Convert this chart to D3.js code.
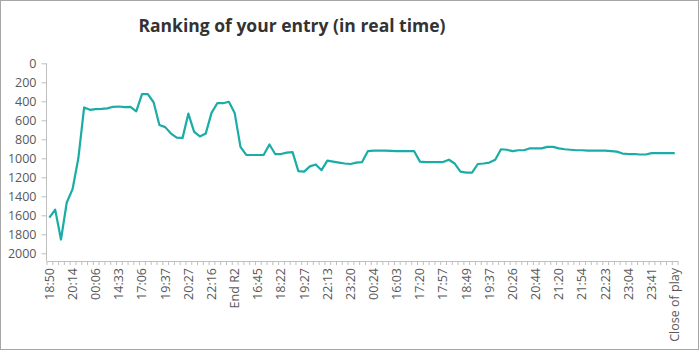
<!DOCTYPE html>
<html>
<head>
<meta charset="utf-8">
<script src="https://cdn.jsdelivr.net/npm/d3@7"></script>
<style>
  html, body { margin: 0; padding: 0; background: #fff; }
  svg { display: block; font-family: "Open Sans", "Noto Sans", sans-serif; }
</style>
</head>
<body>
<svg id="chart" width="699" height="350"></svg>
<script>
// Ranking over time, one value per update
const rank = [
  1625, 1540, 1855, 1465, 1325, 1000, 465, 490, 482, 480,
  475, 458, 455, 462, 458, 505, 325, 325, 410, 650,
  672, 740, 782, 785, 530, 722, 770, 740, 522, 420,
  420, 405, 522, 880, 965, 965, 965, 965, 855, 955,
  955, 940, 935, 1135, 1140, 1085, 1065, 1125, 1025, 1035,
  1045, 1055, 1060, 1045, 1040, 925, 920, 920, 920, 922,
  925, 925, 925, 925, 1035, 1040, 1040, 1040, 1040, 1015,
  1055, 1140, 1150, 1150, 1060, 1055, 1045, 1015, 905, 910,
  925, 915, 915, 895, 895, 895, 880, 880, 895, 905,
  910, 915, 915, 920, 920, 920, 920, 925, 930, 950,
  955, 955, 960, 960, 945, 945, 945, 945, 945
];

// Labels shown on every fourth category
const tickLabels = [
  "18:50", "20:14", "00:06", "14:33", "17:06", "19:37", "20:27", "22:16",
  "End R2", "16:45", "18:22", "19:27", "22:13", "23:20", "00:24", "16:03",
  "17:20", "17:57", "18:49", "19:37", "20:26", "20:44", "21:20", "21:54",
  "22:23", "23:04", "23:41", "Close of play"
];
const labelEvery = 4;

const yTicks = [0, 200, 400, 600, 800, 1000, 1200, 1400, 1600, 1800, 2000];

const svg = d3.select("#chart");
const W = 699, H = 350;

// outer frame
svg.append("rect")
  .attr("x", 0.5).attr("y", 0.5)
  .attr("width", W - 1).attr("height", H - 1)
  .attr("fill", "#fff").attr("stroke", "#a6a6a6").attr("stroke-width", 1);

svg.append("text")
  .attr("x", 292).attr("y", 32)
  .attr("text-anchor", "middle")
  .attr("font-size", 17.5)
  .attr("font-weight", 700)
  .attr("fill", "#333")
  .text("Ranking of your entry (in real time)");

const plotLeft = 46.5, plotRight = 677.6, plotTop = 63.3, plotBottom = 261;

const x = d3.scaleBand().domain(d3.range(rank.length)).range([plotLeft, plotRight]).padding(0);
const xEdge = d3.scaleLinear().domain([0, rank.length]).range([plotLeft, plotRight]);
const y = d3.scaleLinear().domain([0, 2000]).range([plotTop, 253.3]);

const axisColor = "#bfbfbf";
const textColor = "#595959";

// y axis
const yAxis = svg.append("g")
  .attr("transform", `translate(${plotLeft},0)`)
  .call(d3.axisLeft(y).tickValues(yTicks).tickFormat(d3.format("d"))
    .tickSize(5).tickPadding(5).tickSizeOuter(0));
yAxis.select(".domain").remove();
yAxis.append("line")
  .attr("x1", 0).attr("x2", 0).attr("y1", plotTop).attr("y2", plotBottom)
  .attr("stroke", axisColor);
yAxis.selectAll(".tick line").attr("stroke", axisColor);
yAxis.selectAll(".tick text")
  .attr("fill", textColor).attr("font-size", 12.5)
  .attr("font-family", "'Open Sans', sans-serif");

// x axis: tick marks between categories
const xTickG = svg.append("g")
  .attr("transform", `translate(0,${plotBottom})`)
  .call(d3.axisBottom(xEdge).tickValues(d3.range(rank.length + 1)).tickSize(4).tickFormat("").tickSizeOuter(0));
xTickG.select(".domain").attr("stroke", axisColor);
xTickG.selectAll(".tick line").attr("stroke", axisColor);

// x axis labels, rotated
const labelIdx = d3.range(0, rank.length, labelEvery);
const xLab = svg.append("g")
  .attr("transform", `translate(0,${plotBottom})`)
  .call(d3.axisBottom(x).tickValues(labelIdx).tickSize(0)
    .tickFormat(i => tickLabels[i / labelEvery]));
xLab.select(".domain").remove();
xLab.selectAll(".tick text")
  .attr("fill", textColor).attr("font-size", 12.5)
  .attr("font-family", "'Open Sans', sans-serif")
  .attr("transform", "rotate(-90)")
  .attr("text-anchor", "end")
  .attr("x", -7).attr("y", 0).attr("dy", "0.35em");

// ranking line
const line = d3.line()
  .x((d, i) => x(i) + x.bandwidth() / 2)
  .y(d => y(d));

svg.append("path")
  .datum(rank)
  .attr("fill", "none")
  .attr("stroke", "#1aaca6")
  .attr("stroke-width", 2.2)
  .attr("stroke-linejoin", "round")
  .attr("d", line);
</script>
</body>
</html>
